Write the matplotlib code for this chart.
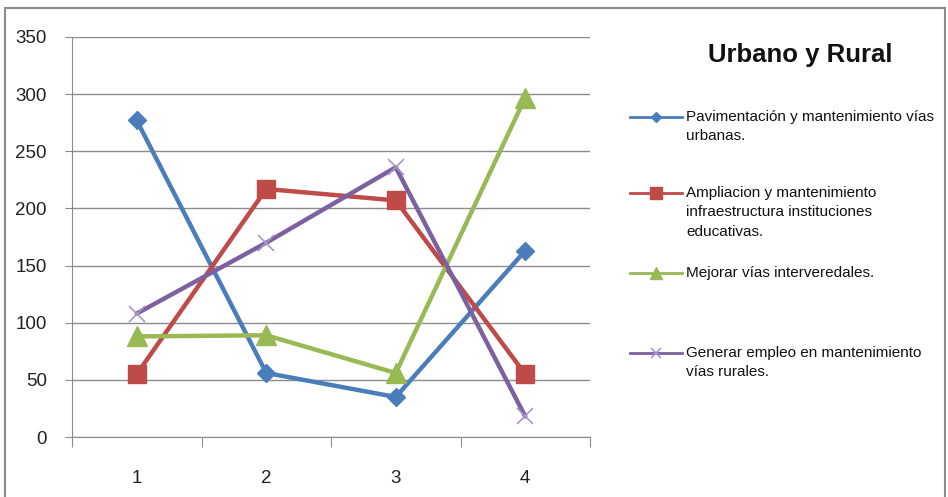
import matplotlib
matplotlib.use("Agg")
from matplotlib import pyplot as plt
from matplotlib.lines import Line2D
from matplotlib.patches import Rectangle

# data
cats = [1, 2, 3, 4]
pavimentacion = [277, 56, 35, 163]
ampliacion = [55, 217, 207, 55]
mejorar = [88, 89, 56, 297]
generar = [108, 170, 236, 18]
labels = ["Pavimentación y mantenimiento vías\nurbanas.",
          "Ampliacion y mantenimiento\ninfraestructura instituciones\neducativas.",
          "Mejorar vías interveredales.",
          "Generar empleo en mantenimiento\nvías rurales."]
title = "Urbano y Rural"

plt.rcParams['font.family'] = ['Liberation Sans Narrow', 'Liberation Sans', 'DejaVu Sans']

W, H = 948, 497
fig = plt.figure(figsize=(W / 100, H / 100), dpi=100)
ax = fig.add_axes([72 / W, 1 - 437 / H, (590 - 72) / W, 400 / H])

styles = [
    dict(color='#4A7EBB', marker='D', ms=9, mfc='#4A7EBB', mec='#4A7EBB'),
    dict(color='#BE4B48', marker='s', ms=13, mfc='#BE4B48', mec='#BE4B48'),
    dict(color='#98B954', marker='^', ms=14, mfc='#98B954', mec='#98B954'),
    dict(color='#7D60A0', marker='x', ms=11, mfc='none', mec='#A995C8', mew=1.2),
]
series = [pavimentacion, ampliacion, mejorar, generar]
for vals, st in zip(series, styles):
    ax.plot(cats, vals, lw=3.2, solid_capstyle='round', **st)

ax.set_xlim(0.5, 4.5)
ax.set_ylim(0, 350)
ax.set_yticks(range(0, 351, 50))
ax.yaxis.grid(True, color='#8c8c8c', lw=1)
ax.set_axisbelow(True)
ax.set_xticks([0.5, 1.5, 2.5, 3.5, 4.5])
ax.set_xticklabels([])
ax.set_xticks(cats, minor=True)
ax.set_xticklabels([str(c) for c in cats], minor=True)
ax.tick_params(axis='x', which='major', length=7, direction='out', color='#8c8c8c')
ax.tick_params(axis='x', which='minor', length=0, pad=24, labelsize=13.5, labelcolor='#222222')
ax.tick_params(axis='y', length=5, direction='out', color='#8c8c8c', labelsize=13.5,
               labelcolor='#222222', pad=13)
for s in ['top', 'right']:
    ax.spines[s].set_visible(False)
for s in ['left', 'bottom']:
    ax.spines[s].set_color('#8c8c8c')

# title
fig.text(800 / W, 1 - 55 / H, title, ha='center', va='center', fontsize=18.5,
         fontweight='bold', color='#111111')

# legend drawn by hand
leg_y = [117, 193, 273, 353]
leg_ms = [5, 8, 8, 7]
for y, st, lab, ms in zip(leg_y, styles, labels, leg_ms):
    line_st = {k: v for k, v in st.items() if k == 'color'}
    fig.add_artist(Line2D([630 / W, 682 / W], [1 - y / H, 1 - y / H], lw=2,
                          transform=fig.transFigure, **line_st))
    mk = dict(st)
    mk['ms'] = ms
    fig.add_artist(Line2D([656 / W], [1 - y / H], lw=0, transform=fig.transFigure, **mk))
    fig.text(686 / W, 1 - (y - 7) / H, lab, ha='left', va='top', fontsize=11,
             color='#111111', linespacing=1.5)

# chart border
fig.add_artist(Rectangle((5 / W, -0.01), (W - 8) / W, 1 - 8 / H + 0.01,
                         transform=fig.transFigure, fill=False, ec='#8c8c8c', lw=1.5))

fig.savefig("out.png", dpi=100)
